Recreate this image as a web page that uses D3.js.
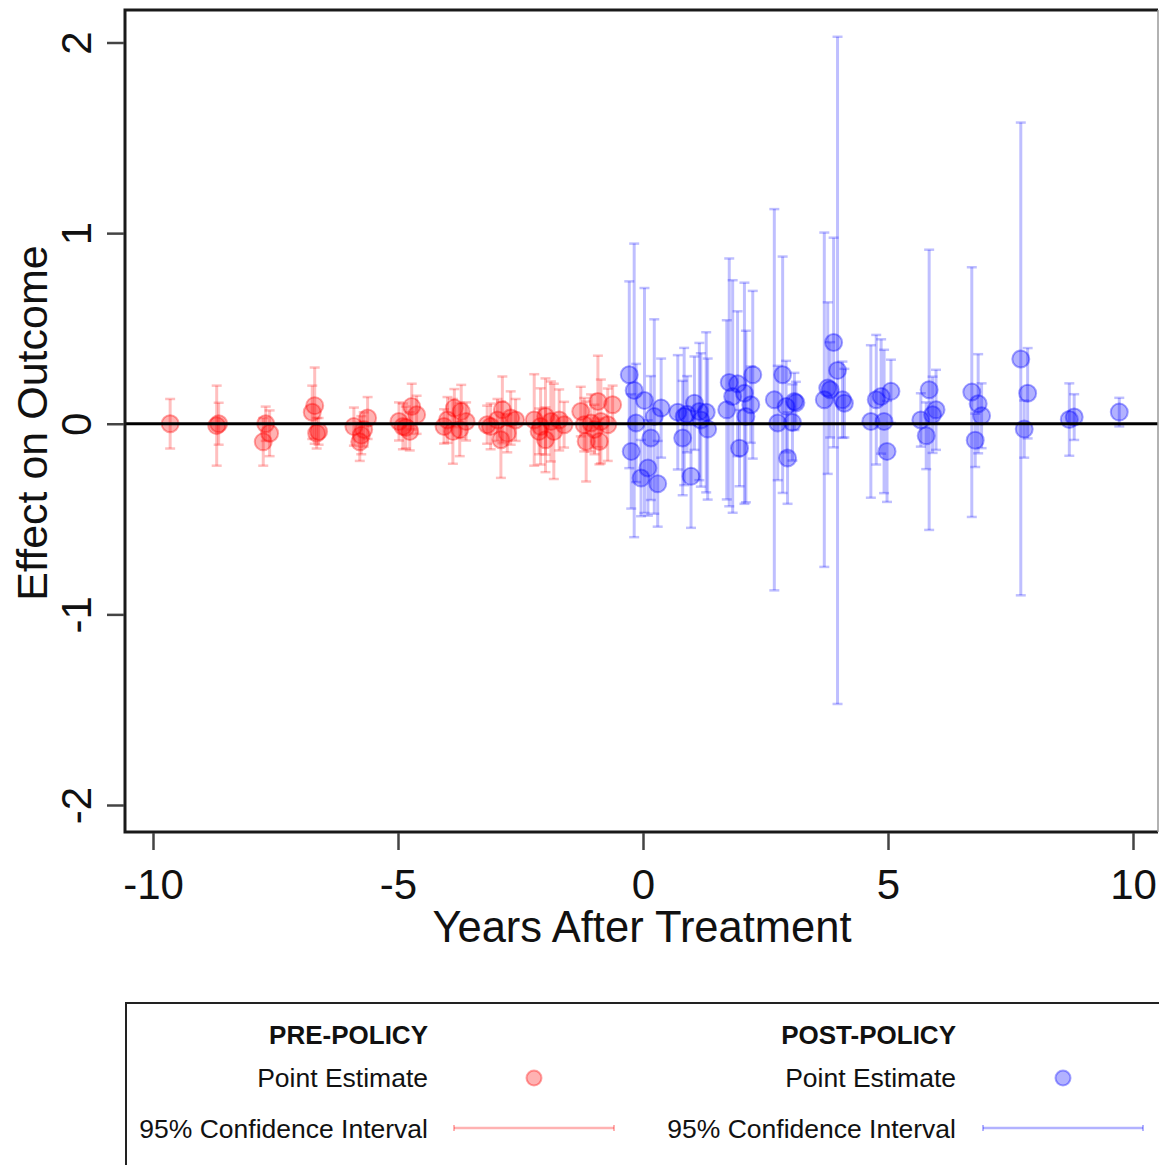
<!DOCTYPE html>
<html>
<head>
<meta charset="utf-8">
<script src="https://cdn.jsdelivr.net/npm/d3@7"></script>
<style>
  body { margin: 0; background: #fff; }
  svg { display: block; font-family: "Liberation Sans", Arial, sans-serif; }
</style>
</head>
<body>
<svg id="chart"></svg>
<script>
// Event-study style chart: point estimates with 95% confidence intervals,
// red before the policy and blue after it.

// Pre-policy estimates (x position in years, estimate, CI half-width)
const preYears = [
  -9.65,
  -8.7, -8.66,
  -7.7, -7.62, -7.75,
  -6.75, -6.7, -6.62, -6.66,
  -5.9, -5.75, -5.78, -5.62, -5.7,
  -4.98, -4.9, -4.84, -4.76, -4.72, -4.62,
  -4.06, -3.99, -3.88, -3.85, -3.74, -3.71, -3.61,
  -3.18, -3.11, -2.97, -2.9, -2.87, -2.77, -2.7, -2.6,
  -2.22, -2.12, -2.09, -1.99, -1.99, -1.88, -1.82, -1.71, -1.61,
  -1.27, -1.2, -1.16, -1.06, -0.99, -0.92, -0.89, -0.86, -0.72, -0.62
];
const preEstimates = [
  0.0,
  -0.01, 0.0,
  0.0, -0.05, -0.095,
  0.06, 0.095, -0.04, -0.05,
  -0.015, -0.06, -0.095, 0.03, -0.03,
  0.012, -0.014, -0.02, -0.04, 0.09, 0.047,
  -0.014, 0.02, -0.04, 0.082, -0.03, 0.064, 0.012,
  -0.005, -0.014, 0.02, -0.084, 0.073, -0.05, 0.03, 0.02,
  0.02, -0.04, -0.014, 0.038, -0.084, 0.012, -0.04, 0.02, -0.005,
  0.064, -0.005, -0.093, 0.004, -0.03, 0.117, -0.093, 0.012, -0.005, 0.1
];
const preHalfWidths = [
  0.13,
  0.21, 0.11,
  0.09, 0.12, 0.125,
  0.14, 0.2, 0.07, 0.08,
  0.1, 0.1, 0.1, 0.11, 0.09,
  0.1, 0.12, 0.11, 0.1, 0.12, 0.1,
  0.09, 0.12, 0.17, 0.1, 0.14, 0.14, 0.1,
  0.1, 0.12, 0.11, 0.2, 0.175, 0.1, 0.14, 0.11,
  0.24, 0.12, 0.2, 0.2, 0.17, 0.21, 0.25, 0.16, 0.12,
  0.13, 0.14, 0.21, 0.15, 0.13, 0.24, 0.12, 0.22, 0.19, 0.1
];

// Post-policy estimates
const postYears = [
  -0.28, -0.24, -0.18, -0.14, -0.04, 0.03, 0.1, 0.16, 0.23, 0.3, 0.37,
  0.71, 0.81, 0.84, 0.9, 0.98, 1.05, 1.15, 1.18, 1.29, 1.32,
  1.71, 1.76, 1.83, 1.93, 1.97, 2.07, 2.1, 2.2, 2.24,
  2.68, 2.75, 2.85, 2.92, 2.95, 3.05, 3.09, 3.12,
  3.7, 3.77, 3.82, 3.89, 3.97, 4.07, 4.11,
  4.65, 4.76, 4.86, 4.92, 4.98, 5.06,
  5.67, 5.78, 5.84, 5.91, 5.98,
  6.71, 6.78, 6.84, 6.91,
  7.71, 7.78, 7.85,
  8.7, 8.8,
  9.72
];
const postEstimates = [
  0.257, -0.145, 0.175, 0.004, -0.285, 0.122, -0.232, -0.075, 0.038, -0.315, 0.082,
  0.06, -0.075, 0.038, 0.05, -0.276, 0.108, 0.064, 0.02, 0.06, -0.028,
  0.073, 0.217, 0.143, 0.21, -0.128, 0.16, 0.038, 0.1, 0.257,
  0.126, 0.004, 0.257, 0.09, -0.18, 0.007, 0.117, 0.11,
  0.126, 0.187, 0.178, 0.426, 0.28, 0.126, 0.108,
  0.012, 0.126, 0.143, 0.012, -0.145, 0.17,
  0.02, -0.063, 0.178, 0.047, 0.073,
  0.166, -0.087, 0.105, 0.042,
  0.34, -0.028, 0.16,
  0.022, 0.035,
  0.061
];
const postHalfWidths = [
  0.49, 0.3, 0.77, 0.31, 0.2, 0.59, 0.25, 0.325, 0.51, 0.225, 0.26,
  0.3, 0.3, 0.36, 0.2, 0.27, 0.245, 0.36, 0.35, 0.42, 0.37,
  0.47, 0.65, 0.61, 0.38, 0.2, 0.58, 0.45, 0.2, 0.44,
  1.0, 0.3, 0.62, 0.24, 0.24, 0.2, 0.15, 0.11,
  0.877, 0.45, 0.25, 0.55, 1.75, 0.2, 0.18,
  0.4, 0.34, 0.3, 0.376, 0.265, 0.166,
  0.14, 0.175, 0.735, 0.2, 0.21,
  0.655, 0.14, 0.26, 0.17,
  1.24, 0.15, 0.237,
  0.19, 0.12,
  0.075
];

const xTicks = [-10, -5, 0, 5, 10];
const yTicks = [-2, -1, 0, 1, 2];

// Build row objects for drawing
const preRows = preYears.map((x, i) => ({ x: x, est: preEstimates[i], hw: preHalfWidths[i] }));
const postRows = postYears.map((x, i) => ({ x: x, est: postEstimates[i], hw: postHalfWidths[i] }));

const width = 1159;
const height = 1165;

// Plot frame edges
const frameLeft = 125, frameTop = 10, frameRight = 1158, frameBottom = 832;

const svg = d3.select("#chart")
  .attr("width", width)
  .attr("height", height);

const x = d3.scaleLinear().domain([-10, 10]).range([153, 1133]);
const y = d3.scaleLinear().domain([-2, 2]).range([805, 42.5]);

const red = "#ff0000";
const blue = "#0000ff";

// plain hyphen for negative numbers, like the original
const plainNumber = d => String(d);

// Confidence intervals (vertical line plus caps)
function drawIntervals(rows, color) {
  const g = svg.append("g")
    .attr("stroke", color)
    .attr("stroke-opacity", 0.25)
    .attr("fill", "none");

  g.selectAll(".ci")
    .data(rows)
    .enter()
    .append("line")
    .attr("x1", d => x(d.x))
    .attr("x2", d => x(d.x))
    .attr("y1", d => y(d.est - d.hw))
    .attr("y2", d => y(d.est + d.hw))
    .attr("stroke-width", 3);

  // caps at both ends
  [-1, 1].forEach(sign => {
    g.selectAll(".cap" + sign)
      .data(rows)
      .enter()
      .append("line")
      .attr("x1", d => x(d.x) - 5)
      .attr("x2", d => x(d.x) + 5)
      .attr("y1", d => y(d.est + sign * d.hw))
      .attr("y2", d => y(d.est + sign * d.hw))
      .attr("stroke-width", 2.5);
  });
}

function drawPoints(rows, color) {
  svg.append("g")
    .selectAll("circle")
    .data(rows)
    .enter()
    .append("circle")
    .attr("cx", d => x(d.x))
    .attr("cy", d => y(d.est))
    .attr("r", 8.5)
    .attr("fill", color)
    .attr("fill-opacity", 0.3)
    .attr("stroke", color)
    .attr("stroke-opacity", 0.35)
    .attr("stroke-width", 2);
}

drawIntervals(preRows, red);
drawIntervals(postRows, blue);
drawPoints(preRows, red);
drawPoints(postRows, blue);

// Zero reference line
svg.append("line")
  .attr("x1", frameLeft)
  .attr("x2", frameRight)
  .attr("y1", y(0))
  .attr("y2", y(0))
  .attr("stroke", "#000")
  .attr("stroke-width", 3);

// Frame: left, bottom and top dark, right faint
svg.append("path")
  .attr("d", `M${frameRight},${frameTop} H${frameLeft} V${frameBottom} H${frameRight}`)
  .attr("fill", "none")
  .attr("stroke", "#1a1a1a")
  .attr("stroke-width", 3);
svg.append("line")
  .attr("x1", frameRight).attr("x2", frameRight)
  .attr("y1", frameTop).attr("y2", frameBottom)
  .attr("stroke", "#999")
  .attr("stroke-width", 1.5);

// Y axis with rotated labels
const yAxis = svg.append("g")
  .attr("transform", `translate(${frameLeft - 1},0)`)
  .call(d3.axisLeft(y).tickValues(yTicks).tickSize(17).tickFormat(plainNumber));
yAxis.select(".domain").remove();
yAxis.selectAll(".tick line").attr("stroke", "#444").attr("stroke-width", 2.5);
yAxis.selectAll(".tick text")
  .attr("x", null)
  .attr("dy", null)
  .attr("text-anchor", "middle")
  .attr("transform", "translate(-33,0) rotate(-90)")
  .attr("font-size", 42)
  .attr("font-family", "Liberation Sans, Arial, sans-serif")
  .attr("fill", "#111");

// X axis
const xAxis = svg.append("g")
  .attr("transform", `translate(0,${frameBottom + 1})`)
  .call(d3.axisBottom(x).tickValues(xTicks).tickSize(17).tickFormat(plainNumber));
xAxis.select(".domain").remove();
xAxis.selectAll(".tick line").attr("stroke", "#444").attr("stroke-width", 2.5);
xAxis.selectAll(".tick text")
  .attr("y", 66)
  .attr("dy", null)
  .attr("font-size", 42)
  .attr("font-family", "Liberation Sans, Arial, sans-serif")
  .attr("fill", "#111");

// Axis titles
svg.append("text")
  .attr("x", 642)
  .attr("y", 942)
  .attr("text-anchor", "middle")
  .attr("font-size", 43.5)
  .attr("fill", "#111")
  .text("Years After Treatment");

svg.append("text")
  .attr("transform", "translate(47,423) rotate(-90)")
  .attr("text-anchor", "middle")
  .attr("font-size", 43)
  .attr("fill", "#111")
  .text("Effect on Outcome");

// Legend box
svg.append("rect")
  .attr("x", 126)
  .attr("y", 1003)
  .attr("width", 1100)
  .attr("height", 300)
  .attr("fill", "none")
  .attr("stroke", "#222")
  .attr("stroke-width", 2);

const legendGroups = [
  { title: "PRE-POLICY", color: red, textRight: 428, marker: 534, lineX1: 454, lineX2: 614 },
  { title: "POST-POLICY", color: blue, textRight: 956, marker: 1063, lineX1: 983, lineX2: 1143 }
];

legendGroups.forEach(lg => {
  const g = svg.append("g");
  g.append("text")
    .attr("x", lg.textRight).attr("y", 1044)
    .attr("text-anchor", "end")
    .attr("font-size", 26)
    .attr("font-weight", "bold")
    .attr("fill", "#111")
    .text(lg.title);
  g.append("text")
    .attr("x", lg.textRight).attr("y", 1087)
    .attr("text-anchor", "end")
    .attr("font-size", 26.5)
    .attr("fill", "#111")
    .text("Point Estimate");
  g.append("text")
    .attr("x", lg.textRight).attr("y", 1138)
    .attr("text-anchor", "end")
    .attr("font-size", 26.5)
    .attr("fill", "#111")
    .text("95% Confidence Interval");

  g.append("circle")
    .attr("cx", lg.marker).attr("cy", 1078)
    .attr("r", 7.5)
    .attr("fill", lg.color).attr("fill-opacity", 0.3)
    .attr("stroke", lg.color).attr("stroke-opacity", 0.35)
    .attr("stroke-width", 2);

  const ci = g.append("g").attr("stroke", lg.color).attr("stroke-opacity", 0.3);
  ci.append("line")
    .attr("x1", lg.lineX1).attr("x2", lg.lineX2)
    .attr("y1", 1128).attr("y2", 1128)
    .attr("stroke-width", 2.5);
  [lg.lineX1, lg.lineX2].forEach(cx => {
    ci.append("line")
      .attr("x1", cx).attr("x2", cx)
      .attr("y1", 1125).attr("y2", 1131)
      .attr("stroke-width", 2);
  });
});
</script>
</body>
</html>
